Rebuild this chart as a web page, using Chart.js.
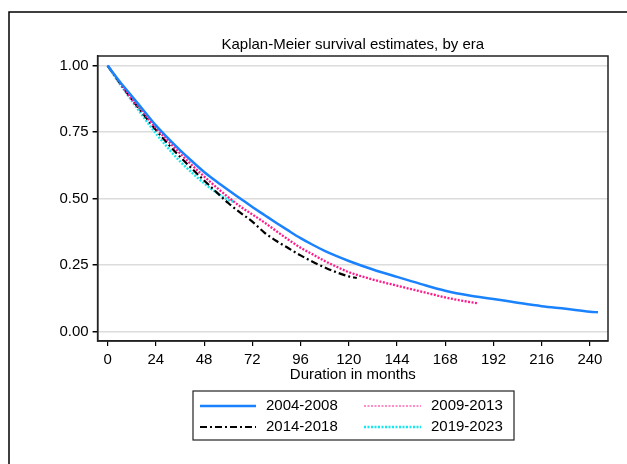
<!DOCTYPE html>
<html>
<head>
<meta charset="utf-8">
<script src="https://cdn.jsdelivr.net/npm/chart.js@4"></script>
<style>
  html, body { margin: 0; padding: 0; background: #fff; }
  #wrap { width: 627px; height: 464px; }
</style>
</head>
<body>
<div id="wrap"><canvas id="km" width="627" height="464"></canvas></div>
<script>
const seriesLabels = ['2004-2008', '2009-2013', '2014-2018', '2019-2023']
const xTicks = [0, 24, 48, 72, 96, 120, 144, 168, 192, 216, 240]
const yTicks = [0, 0.25, 0.5, 0.75, 1]

const monthsA = [0, 6, 12, 18, 24, 30, 36, 42, 48, 54, 60, 66, 72, 78, 84, 90, 96, 102, 108, 114, 120, 132, 144, 156, 168, 180, 192, 204, 216, 228, 240, 244]
const survA = [1.00, 0.94, 0.885, 0.83, 0.775, 0.727, 0.682, 0.64, 0.60, 0.565, 0.532, 0.50, 0.468, 0.438, 0.408, 0.379, 0.351, 0.326, 0.303, 0.283, 0.265, 0.233, 0.205, 0.178, 0.153, 0.135, 0.122, 0.108, 0.095, 0.085, 0.074, 0.072]

const monthsB = [0, 6, 12, 18, 24, 30, 36, 42, 48, 54, 60, 66, 72, 78, 84, 90, 96, 102, 108, 114, 120, 132, 144, 156, 168, 176, 184]
const survB = [1.00, 0.935, 0.875, 0.82, 0.765, 0.717, 0.67, 0.625, 0.583, 0.543, 0.505, 0.47, 0.44, 0.41, 0.377, 0.345, 0.315, 0.29, 0.265, 0.243, 0.223, 0.195, 0.172, 0.15, 0.128, 0.116, 0.106]

const monthsC = [0, 6, 12, 18, 24, 30, 36, 42, 48, 54, 60, 66, 72, 78, 84, 90, 96, 102, 108, 114, 120, 124]
const survC = [1.00, 0.935, 0.873, 0.815, 0.758, 0.706, 0.657, 0.612, 0.568, 0.525, 0.483, 0.447, 0.413, 0.372, 0.34, 0.313, 0.286, 0.262, 0.241, 0.222, 0.207, 0.201]

const monthsD = [0, 6, 12, 18, 24, 30, 36, 42, 48, 54, 60, 63]
const survD = [1.00, 0.932, 0.868, 0.805, 0.745, 0.69, 0.64, 0.597, 0.557, 0.523, 0.495, 0.487]

const FONT = '"Liberation Sans", Arial, sans-serif'
const pts = (xs, ys) => xs.map((x, i) => ({ x, y: ys[i] }))

const styles = [
  { color: '#1a82ff', width: 2.5, dash: [] },
  { color: '#ff1a8c', width: 2.3, dash: [2, 1.5] },
  { color: '#000000', width: 2.2, dash: [7, 3, 2, 3] },
  { color: '#16e8f0', width: 2.5, dash: [2, 1.5] }
]
const allData = [pts(monthsA, survA), pts(monthsB, survB), pts(monthsC, survC), pts(monthsD, survD)]

// frame, title, box round the plot and the legend
const decor = {
  id: 'decor',
  beforeDraw(chart) {
    const ctx = chart.ctx
    ctx.save()
    ctx.strokeStyle = '#000'
    ctx.lineWidth = 1.5
    ctx.strokeRect(9, 12, 700, 600)
    ctx.restore()
  },
  afterDraw(chart) {
    const { ctx, chartArea: a } = chart
    ctx.save()
    ctx.strokeStyle = '#222'
    ctx.lineWidth = 1.5
    ctx.strokeRect(a.left, a.top, a.right - a.left, a.bottom - a.top)

    ctx.fillStyle = '#000'
    ctx.font = '15px ' + FONT
    ctx.textAlign = 'center'
    ctx.textBaseline = 'middle'
    ctx.fillText('Kaplan-Meier survival estimates, by era', (a.left + a.right) / 2, 45)
    ctx.fillText('Duration in months', (a.left + a.right) / 2, 375)

    // legend
    ctx.strokeStyle = '#222'
    ctx.lineWidth = 1.2
    ctx.strokeRect(193, 391, 321, 49)
    const cols = [{ l0: 200, l1: 256, t: 266 }, { l0: 364, l1: 421, t: 431 }]
    const rows = [406, 427]
    seriesLabels.forEach((lab, i) => {
      const c = cols[i % 2], y = rows[Math.floor(i / 2)]
      const s = styles[i]
      ctx.beginPath()
      ctx.strokeStyle = s.color
      ctx.lineWidth = i === 1 ? 1.2 : s.width
      ctx.setLineDash(s.dash)
      ctx.moveTo(c.l0, y)
      ctx.lineTo(c.l1, y)
      ctx.stroke()
      ctx.setLineDash([])
      ctx.fillStyle = '#000'
      ctx.textAlign = 'left'
      ctx.fillText(lab, c.t, y)
    })
    ctx.restore()
  }
}

new Chart(document.getElementById('km'), {
  type: 'line',
  data: {
    datasets: seriesLabels.map((label, i) => ({
      label,
      data: allData[i],
      borderColor: styles[i].color,
      borderWidth: styles[i].width,
      borderDash: styles[i].dash,
      pointRadius: 0,
      fill: false,
      cubicInterpolationMode: 'monotone'
    }))
  },
  options: {
    responsive: false,
    animation: false,
    layout: { padding: { left: 0, top: 56, right: 19, bottom: 73 } },
    plugins: { legend: { display: false }, title: { display: false }, tooltip: { enabled: false } },
    scales: {
      x: {
        type: 'linear',
        min: -5,
        max: 249,
        afterFit: s => { s.height = 50 },
        afterBuildTicks: s => { s.ticks = xTicks.map(v => ({ value: v })) },
        grid: { drawOnChartArea: false, color: '#000', tickLength: 5, lineWidth: 1.2 },
        border: { color: '#222', width: 1.5 },
        ticks: { color: '#000', font: { family: FONT, size: 15 }, padding: 5, maxRotation: 0, autoSkip: false }
      },
      y: {
        type: 'linear',
        min: -0.036,
        max: 1.036,
        afterFit: s => { s.width = 97.6 },
        afterBuildTicks: s => { s.ticks = yTicks.map(v => ({ value: v })) },
        grid: { color: '#dcdcdc', lineWidth: 1.5, tickColor: '#000', tickLength: 5 },
        border: { color: '#222', width: 1.5 },
        ticks: {
          color: '#000',
          font: { family: FONT, size: 15 },
          padding: 4,
          callback: v => v.toFixed(2)
        }
      }
    }
  },
  plugins: [decor]
})
</script>
</body>
</html>
